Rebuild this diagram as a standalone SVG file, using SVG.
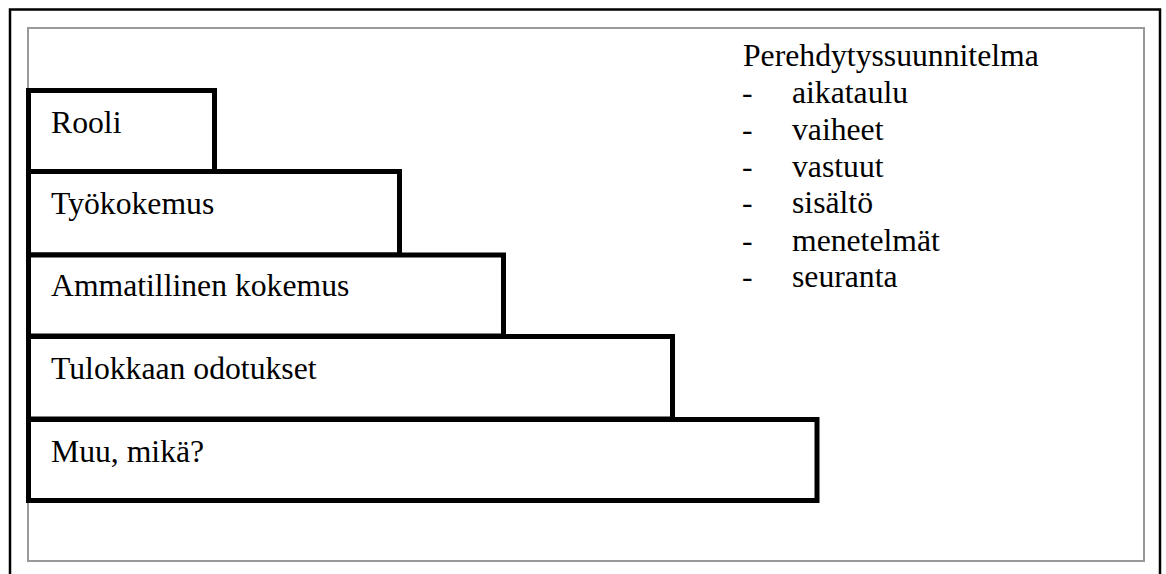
<svg xmlns="http://www.w3.org/2000/svg" width="1166" height="574" viewBox="0 0 1166 574">
  <style>
    .frame { fill: none; stroke: #000; stroke-width: 2.5; }
    .panel { fill: none; stroke: #999; stroke-width: 2; }
    .box { fill: #fff; stroke: #000; stroke-width: 5; }
    .lbl { font-family: "Liberation Serif", "Times New Roman", serif; font-size: 31.7px; fill: #000; }
  </style>
  <rect width="1166" height="574" fill="#fff"/>
  <!-- page frame and inner panel -->
  <rect class="frame" x="10" y="9.5" width="1150" height="600"/>
  <rect class="panel" x="28" y="28" width="1116" height="533"/>

  <!-- stacked steps, widest at the bottom -->
  <g id="rooli">
    <rect class="box" x="28.5" y="90.5" width="186" height="81"/>
    <text class="lbl" x="51" y="132.5">Rooli</text>
  </g>
  <g id="tyokokemus">
    <rect class="box" x="28.5" y="171.5" width="371" height="83.5"/>
    <text class="lbl" x="51" y="213.5">Työkokemus</text>
  </g>
  <g id="ammatillinen">
    <rect class="box" x="28.5" y="255" width="475" height="81"/>
    <text class="lbl" x="51" y="296">Ammatillinen kokemus</text>
  </g>
  <g id="odotukset">
    <rect class="box" x="28.5" y="336.5" width="644" height="82.5"/>
    <text class="lbl" x="51" y="378.5">Tulokkaan odotukset</text>
  </g>
  <g id="muu">
    <rect class="box" x="28.5" y="419.5" width="788.5" height="81"/>
    <text class="lbl" x="51" y="461.5">Muu, mikä?</text>
  </g>

  <!-- plan contents list -->
  <g id="suunnitelma" class="lbl">
    <text x="743" y="66">Perehdytyssuunnitelma</text>
    <text x="742" y="103">-</text><text x="792" y="103">aikataulu</text>
    <text x="742" y="140">-</text><text x="792" y="140">vaiheet</text>
    <text x="742" y="176.7">-</text><text x="792" y="176.7">vastuut</text>
    <text x="742" y="213">-</text><text x="792" y="213">sisältö</text>
    <text x="742" y="250.7">-</text><text x="792" y="250.7">menetelmät</text>
    <text x="742" y="287">-</text><text x="792" y="287">seuranta</text>
  </g>

  <g id="connectors"/>
</svg>
